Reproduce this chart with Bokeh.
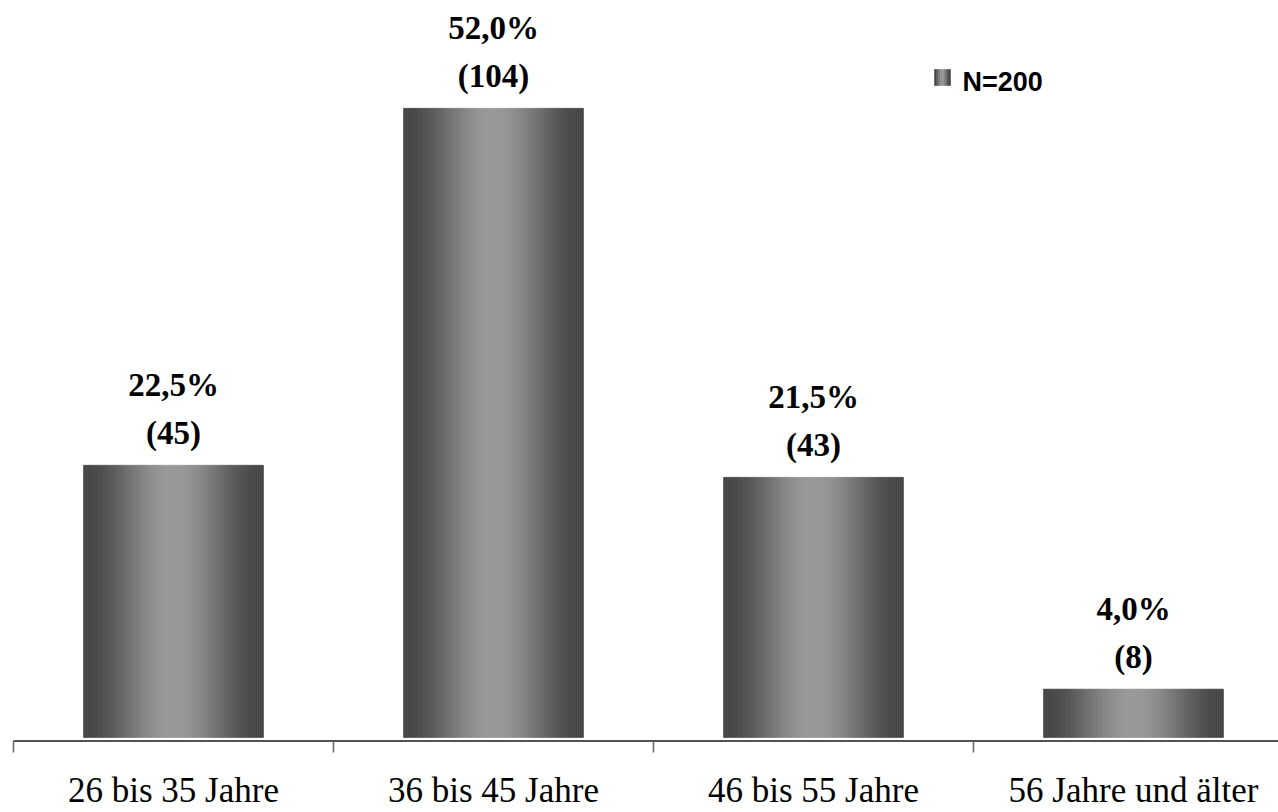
import numpy as np
from bokeh.plotting import figure
from bokeh.models import Range1d
from bokeh.core.properties import value
from bokeh.embed import file_html
from bokeh.resources import INLINE

# ---- data ----
categories = ["26 bis 35 Jahre", "36 bis 45 Jahre", "46 bis 55 Jahre", "56 Jahre und älter"]
percent = [22.5, 52.0, 21.5, 4.0]
counts = [45, 104, 43, 8]
legend_label = "N=200"

# ---- layout constants (pixels) ----
W, H = 1278, 812
CAT_PX = 320          # px per category
X0_PX = 173           # px of first category centre
Y0_PX = 737           # px of value 0
PX_PER_UNIT = 12.1    # px per percent
BAR_W = 180 / CAT_PX

x_start = -X0_PX / CAT_PX
x_end = x_start + W / CAT_PX
y_end = Y0_PX / PX_PER_UNIT
y_start = -(H - Y0_PX) / PX_PER_UNIT


def dy(px):
    return px / PX_PER_UNIT


def sx(px):
    return x_start + px / CAT_PX


def sy(px):
    return (Y0_PX - px) / PX_PER_UNIT


def gray(t):
    g = int(round(68 + 83 * np.sin(np.pi * t) ** 2))
    return "#{0:02x}{0:02x}{0:02x}".format(g)


p = figure(width=W, height=H, output_backend="svg", toolbar_location=None,
           x_range=Range1d(x_start, x_end), y_range=Range1d(y_start, y_end),
           x_axis_location=None, y_axis_location=None, min_border=0)
p.grid.visible = False
p.outline_line_color = None
p.background_fill_color = "white"
p.border_fill_color = "white"

# ---- cylinder-like gradient bars ----
N = 90
left, right, top, bottom, colors = [], [], [], [], []
for i, v in enumerate(percent):
    for k in range(N):
        l = i - BAR_W / 2 + k * BAR_W / N
        left.append(l)
        right.append(l + BAR_W / N)
        top.append(v)
        bottom.append(0)
        colors.append(gray((k + 0.5) / N))
p.quad(left=left, right=right, top=top, bottom=bottom,
       fill_color=colors, line_color=colors, line_width=0.6)

# ---- value labels ----
xs = list(range(len(categories)))
pct_txt = [("%.1f%%" % v).replace(".", ",") for v in percent]
cnt_txt = ["(%d)" % c for c in counts]
p.text(x=xs, y=[v + dy(80) for v in percent], text=pct_txt,
       text_font=value("Liberation Serif"), text_font_style="bold",
       text_font_size="33px", text_align="center", text_baseline="alphabetic",
       text_color="black")
p.text(x=xs, y=[v + dy(32) for v in percent], text=cnt_txt,
       text_font=value("Liberation Serif"), text_font_style="bold",
       text_font_size="33px", text_align="center", text_baseline="alphabetic",
       text_color="black")

# ---- category axis ----
axis_y = sy(740.5)
bounds = [i - 0.5 for i in range(len(categories) + 1)]
p.segment(x0=[bounds[0]], x1=[x_end], y0=[axis_y], y1=[axis_y],
          line_color="#1a1a1a", line_width=1.6)
p.segment(x0=bounds, x1=bounds, y0=[axis_y] * len(bounds),
          y1=[sy(752)] * len(bounds), line_color="#666666", line_width=1.5)
p.text(x=xs, y=[sy(790)] * len(xs), text=categories,
       text_font=value("Liberation Serif"), text_font_size="35px",
       text_align="center", text_baseline="alphabetic", text_color="black")

# ---- legend ----
M = 8
lx0, lx1 = sx(934), sx(950)
lw = (lx1 - lx0) / M
p.quad(left=[lx0 + k * lw for k in range(M)], right=[lx0 + (k + 1) * lw for k in range(M)],
       top=[sy(69)] * M, bottom=[sy(85)] * M,
       fill_color=[gray((k + 0.5) / M) for k in range(M)],
       line_color=[gray((k + 0.5) / M) for k in range(M)], line_width=0.6)
p.text(x=[sx(962)], y=[sy(81)], text=[legend_label],
       text_font=value("Liberation Sans"), text_font_style="bold",
       text_font_size="27px", text_align="left", text_baseline="alphabetic",
       text_color="black")

open("out.html", "w").write(file_html(p, INLINE))
